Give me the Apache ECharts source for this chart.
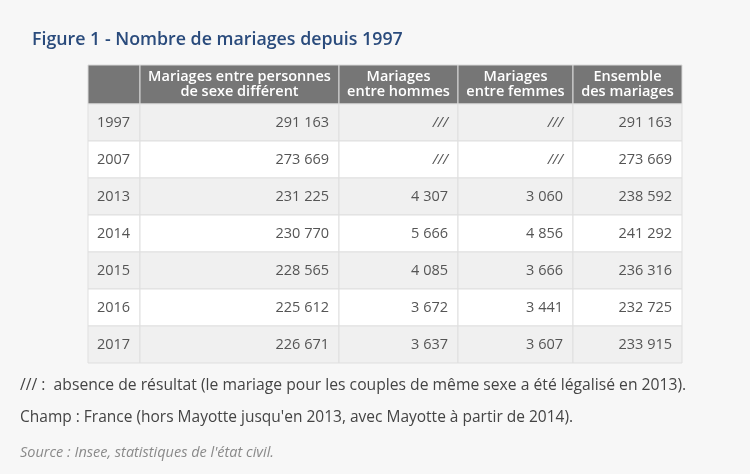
<!DOCTYPE html>
<html><head><meta charset="utf-8">
<script src="https://cdn.jsdelivr.net/npm/echarts@6/dist/echarts.min.js"></script>
<style>html,body{margin:0;padding:0;background:#f7f7f7;}#c{width:750px;height:474px;}</style>
</head><body><div id="c"></div>
<script>
// ---- data ----
const headers = ['', 'Mariages entre personnes\nde sexe différent', 'Mariages\nentre hommes', 'Mariages\nentre femmes', 'Ensemble\ndes mariages'];
const years = ['1997', '2007', '2013', '2014', '2015', '2016', '2017'];
const sexeDifferent = [291163, 273669, 231225, 230770, 228565, 225612, 226671];
const entreHommes = [null, null, 4307, 5666, 4085, 3672, 3637];
const entreFemmes = [null, null, 3060, 4856, 3666, 3441, 3607];
const ensemble = [291163, 273669, 238592, 241292, 236316, 232725, 233915];

// ---- layout ----
const colEdges = [88, 140, 339, 458, 573, 682];
const headerTop = 65, headerBottom = 104, bodyBottom = 363;
const FONT = "'Open Sans', sans-serif";

function fmt(v) {
  if (v === null) return '///';
  return String(v).replace(/\B(?=(\d{3})+(?!\d))/g, ' ');
}
const columns = [years, sexeDifferent, entreHommes, entreFemmes, ensemble];

const grids = [], xAxes = [], yAxes = [], series = [];
columns.forEach((col, ci) => {
  const left = colEdges[ci], width = colEdges[ci + 1] - colEdges[ci];
  grids.push({ left: left, width: width, top: headerTop, height: headerBottom - headerTop, containLabel: false });
  grids.push({ left: left, width: width, top: headerBottom, height: bodyBottom - headerBottom, containLabel: false });
  const hg = grids.length - 2, bg = grids.length - 1;
  xAxes.push({ type: 'category', gridIndex: hg, data: ['c'], show: false });
  xAxes.push({ type: 'category', gridIndex: bg, data: ['c'], show: false });
  yAxes.push({ type: 'category', gridIndex: hg, data: ['h'], show: false });
  yAxes.push({ type: 'category', gridIndex: bg, data: years, inverse: true, show: false });

  series.push({
    type: 'custom', xAxisIndex: hg, yAxisIndex: hg, silent: true,
    data: [[0, 0, headers[ci]]],
    renderItem: function (params, api) {
      const c = api.coord([0, 0]); const s = api.size([1, 1]);
      const x = c[0] - s[0] / 2, y = c[1] - s[1] / 2;
      return { type: 'group', children: [
        { type: 'rect', shape: { x: x, y: y, width: s[0], height: s[1] },
          style: { fill: '#767676', stroke: '#d9d9d9', lineWidth: 1 } },
        { type: 'text', style: { x: c[0], y: c[1], text: headers[ci], fill: '#ffffff',
          font: '600 14.5px ' + FONT, align: 'center', verticalAlign: 'middle', lineHeight: 15 } }
      ] };
    }
  });

  series.push({
    type: 'custom', xAxisIndex: bg, yAxisIndex: bg, silent: true,
    data: col.map((v, ri) => [0, ri, ci === 0 ? v : fmt(v)]),
    renderItem: function (params, api) {
      const ri = params.dataIndex;
      const c = api.coord([0, ri]); const s = api.size([1, 1]);
      const x = c[0] - s[0] / 2, y = c[1] - s[1] / 2;
      const v = col[ri];
      const txt = ci === 0 ? v : fmt(v);
      const italic = v === null;
      return { type: 'group', children: [
        { type: 'rect', shape: { x: x, y: y, width: s[0], height: s[1] },
          style: { fill: ri % 2 === 0 ? '#f0f0f0' : '#ffffff', stroke: '#dfdfdf', lineWidth: 1 } },
        { type: 'text', style: { x: ci === 0 ? x + 9 : x + s[0] - 10, y: c[1], text: txt, fill: '#555555',
          font: (italic ? 'italic ' : '') + '14.5px ' + FONT, align: ci === 0 ? 'left' : 'right', verticalAlign: 'middle' } }
      ] };
    }
  });
});

const chart = echarts.init(document.getElementById('c'), null, { renderer: 'canvas' });
chart.setOption({
  backgroundColor: '#f7f7f7',
  animation: false,
  grid: grids, xAxis: xAxes, yAxis: yAxes, series: series,
  graphic: [
    { type: 'text', x: 32, y: 40, style: { text: 'Figure 1 - Nombre de mariages depuis 1997', fill: '#2a4b7c', font: '600 17.8px ' + FONT, verticalAlign: 'middle' } },
    { type: 'text', x: 20, y: 386, style: { text: '/// :  absence de résultat (le mariage pour les couples de même sexe a été légalisé en 2013).', fill: '#444444', font: '15.7px ' + FONT, verticalAlign: 'middle' } },
    { type: 'text', x: 20, y: 418, style: { text: "Champ : France (hors Mayotte jusqu'en 2013, avec Mayotte à partir de 2014).", fill: '#444444', font: '15.5px ' + FONT, verticalAlign: 'middle' } },
    { type: 'text', x: 20, y: 453, style: { text: "Source : Insee, statistiques de l'état civil.", fill: '#8a8a8a', font: 'italic 14.5px ' + FONT, verticalAlign: 'middle' } }
  ]
});
</script></body></html>
